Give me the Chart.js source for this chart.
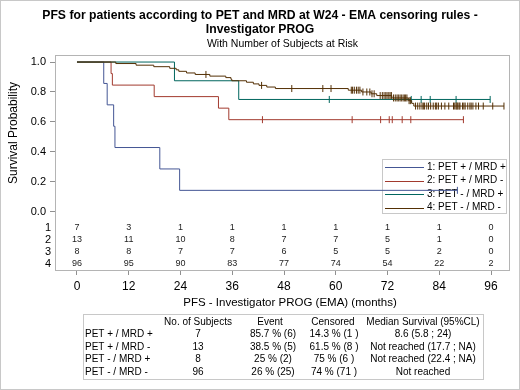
<!DOCTYPE html>
<html><head><meta charset="utf-8">
<script src="https://cdn.jsdelivr.net/npm/chart.js@4"></script>
<style>html,body{margin:0;padding:0;background:#fff}</style>
</head><body>
<canvas id="c" width="520" height="390"></canvas>
<script>
// ---------- DATA ----------
const groupLabels = ['1: PET + / MRD +', '2: PET + / MRD -', '3: PET - / MRD +', '4: PET - / MRD -'];
const groupColors = ['#445694', '#A23A2E', '#01665E', '#543005'];

// step curves: time of each drop (first = 0, last = end of follow-up) and survival after it
const g1Times = [0, 6.2, 7.0, 8.5, 8.8, 19.2, 23.8, 88.2];
const g1Surv  = [1, 0.857, 0.714, 0.571, 0.429, 0.286, 0.143, 0.143];
const g2Times = [0, 7.9, 8.2, 17.9, 32.8, 35.2, 89.6];
const g2Surv  = [1, 0.923, 0.846, 0.769, 0.692, 0.615, 0.615];
const g3Times = [0, 22.6, 37.5, 95.8];
const g3Surv  = [1, 0.875, 0.75, 0.75];
const g4Times = [0, 9, 13.7, 17.8, 21.5, 23.0, 23.6, 25.4, 27.4, 30.8, 34.5, 35.7, 35.9, 39.3, 40.9, 42.2, 44.0, 46.0, 62.9, 66.0, 68.2, 69.5, 73.0, 76.8, 77.6, 78.1, 99.0];
const g4Surv  = [1, 0.990, 0.979, 0.969, 0.958, 0.948, 0.938, 0.927, 0.917, 0.906, 0.896, 0.885, 0.875, 0.865, 0.854, 0.844, 0.833, 0.823, 0.812, 0.800, 0.788, 0.776, 0.760, 0.742, 0.724, 0.706, 0.706];

// censoring times
const g1Cens = [88.2];
const g2Cens = [43.0, 63.8, 70.4, 72.4, 73.1, 75.4, 77.4, 89.6];
const g3Cens = [58.5, 77.5, 79.8, 81.9, 87.9, 95.8];
const g4Cens = [29.9, 42.8, 49.8, 57.0, 58.9,
  63.6, 63.9, 64.3, 64.8, 65.2, 65.6, 66.3, 67.2, 67.9, 68.4, 68.9, 70.3, 70.8, 71.2, 71.6, 71.9,
  72.3, 72.6, 72.9, 73.4, 73.8, 74.2, 74.5, 74.9, 75.2, 75.6, 75.9, 76.2, 76.5, 77.0, 77.3, 78.5, 79.0, 79.5, 80.0, 80.3, 80.6, 81.1, 81.5, 82.0, 82.6, 83.1, 83.4, 83.8,
  84.5, 85.3, 86.2, 87.3, 87.6, 87.9, 88.1, 88.3, 88.6, 88.8, 89.4, 89.7, 90.0, 90.6, 91.1, 91.4, 91.8, 92.5, 93.1, 94.2,
  96.4, 99.0];

// number at risk
const xTicks = [0, 12, 24, 36, 48, 60, 72, 84, 96];
const yTicks = [0, 0.2, 0.4, 0.6, 0.8, 1.0];
const risk1 = [7, 3, 1, 1, 1, 1, 1, 1, 0];
const risk2 = [13, 11, 10, 8, 7, 7, 5, 1, 0];
const risk3 = [8, 8, 7, 7, 6, 5, 5, 2, 0];
const risk4 = [96, 95, 90, 83, 77, 74, 54, 22, 2];
const riskRowLabels = ['1', '2', '3', '4'];

// summary table
const sumHeader = ['No. of Subjects', 'Event', 'Censored', 'Median Survival (95%CL)'];
const sumRowLabels = ['PET + / MRD +', 'PET + / MRD -', 'PET - / MRD +', 'PET - / MRD -'];
const sumN = ['7', '13', '8', '96'];
const sumEvent = ['85.7 % (6)', '38.5 % (5)', '25 % (2)', '26 % (25)'];
const sumCens = ['14.3 % (1 )', '61.5 % (8 )', '75 % (6 )', '74 % (71 )'];
const sumMedian = ['8.6 (5.8 ; 24)', 'Not reached (17.7 ; NA)', 'Not reached (22.4 ; NA)', 'Not reached'];

const titleLines = ['PFS for patients according to PET and MRD at W24 - EMA censoring rules -', 'Investigator PROG'];
const subTitle = 'With Number of Subjects at Risk';
const xTitle = 'PFS - Investigator PROG (EMA) (months)';
const yTitle = 'Survival Probability';

// ---------- BUILD ----------
const FF = '"Liberation Sans", Arial, sans-serif';
function stepAt(times, surv, t) { let v = surv[0]; for (let i = 0; i < times.length; i++) if (times[i] <= t) v = surv[i]; return v; }
const allTimes = [g1Times, g2Times, g3Times, g4Times];
const allSurv = [g1Surv, g2Surv, g3Surv, g4Surv];
const allCens = [g1Cens, g2Cens, g3Cens, g4Cens];
const allRisk = [risk1, risk2, risk3, risk4];

const datasets = [];
for (let g = 0; g < 4; g++) {
  datasets.push({
    type: 'line', label: groupLabels[g],
    data: allTimes[g].map((t, i) => ({x: t, y: allSurv[g][i]})),
    stepped: 'before', borderColor: groupColors[g], borderWidth: 1, pointRadius: 0, fill: false, order: 4 - g
  });
}
for (let g = 0; g < 4; g++) {
  datasets.push({
    type: 'scatter', label: 'cens' + g,
    data: allCens[g].map(t => ({x: t, y: stepAt(allTimes[g], allSurv[g], t)})),
    pointStyle: 'line', rotation: 90, radius: 3.5, borderColor: groupColors[g], borderWidth: 1, order: 4 - g
  });
}

const deco = {
  id: 'deco',
  beforeDraw(chart) {
    const c = chart.ctx; c.save();
    c.fillStyle = '#fff'; c.fillRect(0, 0, 520, 390);
    c.restore();
  },
  beforeDatasetsDraw(chart) {
    const c = chart.ctx;
    c.save();
    // legend (drawn beneath the curves, as in the reference)
    c.strokeStyle = '#c8c8c8'; c.lineWidth = 1; c.strokeRect(382.5, 159.5, 124, 54);
    const legY = [167, 180.5, 194, 207.5];
    c.font = '10px ' + FF; c.textAlign = 'left'; c.textBaseline = 'middle';
    for (let g = 0; g < 4; g++) {
      c.strokeStyle = groupColors[g]; c.beginPath(); c.moveTo(385, Math.round(legY[g]) + 0.5); c.lineTo(424, Math.round(legY[g]) + 0.5); c.stroke();
      c.fillStyle = '#000'; c.fillText(groupLabels[g], 427, legY[g]);
    }
    c.restore();
  },
  afterDraw(chart) {
    const c = chart.ctx, a = chart.chartArea, xs = chart.scales.x;
    c.save();
    // outer border
    c.strokeStyle = '#c8c8c8'; c.lineWidth = 1; c.strokeRect(0.5, 0.5, 519, 389);
    // frame
    c.strokeStyle = '#b4b4b4'; c.strokeRect(Math.round(a.left) + 0.5, Math.round(a.top) + 0.5, Math.round(a.right - a.left) - 1, Math.round(a.bottom - a.top));
    // titles
    c.fillStyle = '#000'; c.textAlign = 'center'; c.textBaseline = 'middle';
    c.font = 'bold 12.2px ' + FF;
    c.fillText(titleLines[0], 260, 16);
    c.fillText(titleLines[1], 260, 30);
    c.font = '10.5px ' + FF;
    c.fillText(subTitle, (a.left + a.right) / 2, 44);
    c.font = '11.5px ' + FF;
    c.fillText(xTitle, 290, 303);
    c.font = '12px ' + FF;
    c.save(); c.translate(14, 133); c.rotate(-Math.PI / 2); c.fillText(yTitle, 0, 0); c.restore();
    // at-risk rows
    const rowY = [228, 240, 252, 264];
    for (let g = 0; g < 4; g++) {
      c.font = '9px ' + FF; c.textAlign = 'center'; c.fillStyle = '#222';
      xTicks.forEach((t, i) => c.fillText(String(allRisk[g][i]), xs.getPixelForValue(t), rowY[g]));
      c.font = '11px ' + FF; c.textAlign = 'right'; c.fillStyle = '#000';
      c.fillText(riskRowLabels[g], 51, rowY[g]);
    }
    // summary table
    c.strokeStyle = '#c8c8c8'; c.strokeRect(83.5, 314.5, 400, 65);
    const colX = [198, 270, 333, 423];
    const rowsY = [322, 334.5, 347, 359.5, 372];
    c.font = '10px ' + FF; c.fillStyle = '#000'; c.textAlign = 'center';
    sumHeader.forEach((h, i) => c.fillText(h, colX[i], rowsY[0]));
    for (let r = 0; r < 4; r++) {
      const y = rowsY[r + 1];
      c.textAlign = 'left'; c.fillText(sumRowLabels[r], 85, y);
      c.textAlign = 'center';
      c.fillText(sumN[r], colX[0], y);
      c.fillText(sumEvent[r], colX[1] + 3, y);
      c.fillText(sumCens[r], colX[2] + 1, y);
      c.fillText(sumMedian[r], colX[3], y);
    }
    c.restore();
  }
};

new Chart(document.getElementById('c'), {
  data: {datasets},
  options: {
    responsive: false, animation: false, devicePixelRatio: 1,
    layout: {padding: {top: 55, right: 10, left: 0, bottom: 0}},
    plugins: {legend: {display: false}, title: {display: false}, tooltip: {enabled: false}},
    scales: {
      x: {
        type: 'linear', min: -5.1, max: 100.4,
        afterBuildTicks: s => { s.ticks = xTicks.map(v => ({value: v})); },
        afterFit: s => { s.height = 120; },
        grid: {drawOnChartArea: false, drawTicks: true, tickLength: 5, color: '#909090'},
        border: {display: false},
        ticks: {font: {family: FF, size: 12}, color: '#000', padding: 4, autoSkip: false, maxRotation: 0, callback: v => String(v)}
      },
      y: {
        type: 'linear', min: -0.389, max: 1.047,
        afterBuildTicks: s => { s.ticks = yTicks.map(v => ({value: v})); },
        afterFit: s => { s.width = 55; },
        grid: {drawOnChartArea: false, drawTicks: true, tickLength: 5, color: '#909090'},
        border: {display: false},
        ticks: {font: {family: FF, size: 11}, color: '#000', padding: 4, callback: v => Number(v).toFixed(1)}
      }
    }
  },
  plugins: [deco]
});
</script>
</body></html>
